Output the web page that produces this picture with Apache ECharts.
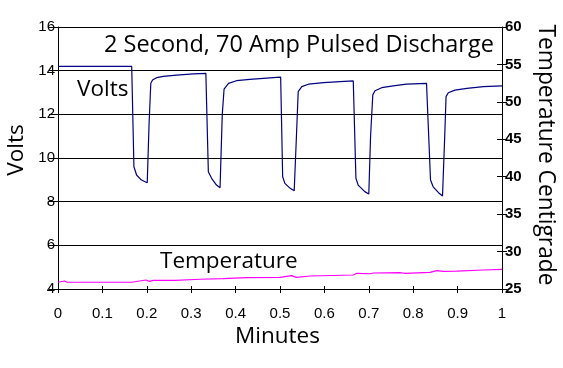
<!DOCTYPE html>
<html><head><meta charset="utf-8">
<script src="https://cdn.jsdelivr.net/npm/echarts@6/dist/echarts.min.js"></script>
<style>html,body{margin:0;padding:0;background:#fff}#c{width:563px;height:368px}</style>
</head><body><div id="c"></div>
<script>
// Time in minutes, volts
const voltsTime = [0,0.166,0.171,0.177,0.188,0.201,0.205,0.209,0.213,0.222,0.237,0.267,0.305,0.333,
  0.3386,0.346,0.357,0.365,0.370,0.374,0.384,0.402,0.432,0.485,0.5015,
  0.506,0.511,0.523,0.532,0.537,0.541,0.549,0.564,0.598,0.635,0.665,
  0.671,0.676,0.691,0.700,0.704,0.709,0.714,0.729,0.755,0.785,0.830,
  0.839,0.845,0.857,0.866,0.871,0.874,0.879,0.894,0.921,0.958,1.0];
const voltsValue = [14.2,14.2,9.6,9.22,8.99,8.87,11.5,13.42,13.57,13.68,13.74,13.80,13.85,13.88,
  9.37,9.07,8.76,8.64,12.0,13.15,13.42,13.54,13.60,13.68,13.70,
  9.14,8.84,8.61,8.50,11.0,13.04,13.27,13.38,13.45,13.50,13.53,
  9.07,8.76,8.46,8.35,11.0,12.89,13.08,13.22,13.30,13.38,13.42,
  8.99,8.68,8.41,8.26,11.0,12.81,12.99,13.11,13.19,13.27,13.30];
// Time in minutes, temperature in degrees C
const tempTime = [0,0.015,0.02,0.166,0.17,0.198,0.2,0.205,0.215,0.263,0.264,0.32,0.372,0.425,0.5,0.526,0.537,0.568,0.665,0.673,0.703,0.710,0.77,0.78,0.838,0.853,0.868,0.898,0.958,1.0];
const tempValue = [25.9,26.07,25.9,25.9,26.11,26.2,26.34,26.03,26.16,26.16,26.3,26.3,26.38,26.51,26.56,26.78,26.56,26.74,26.87,27.10,27.04,27.14,27.18,27.10,27.23,27.45,27.36,27.40,27.54,27.63];
const xTicks = {min:0, max:1, interval:0.1};
const voltTicks = {min:4, max:16, interval:2};
const tempTicks = {min:25, max:60, interval:5};

const chart = echarts.init(document.getElementById('c'), null, {renderer:'canvas'});
const tickFont = {color:'#000', fontFamily:'Liberation Sans, Arial', fontSize:15};
const pairs = (xs, ys) => xs.map((x,i)=>[x, ys[i]]);
const fmtX = v => String(Math.round(v*10)/10);
const G = {left:58, right:61, top:27, bottom:79, show:false};
const titleFont = '"Open Sans", sans-serif';
chart.setOption({
  animation:false,
  grid:[Object.assign({}, G), Object.assign({}, G)],
  xAxis:[
    {type:'value', gridIndex:0, min:xTicks.min, max:xTicks.max, interval:xTicks.interval,
     axisLine:{show:true, onZero:false, lineStyle:{color:'#000', width:1}},
     axisTick:{show:true, inside:false, length:4, lineStyle:{color:'#000'}},
     axisLabel:Object.assign({formatter:fmtX, margin:17}, tickFont),
     splitLine:{show:false}},
    {type:'value', gridIndex:1, position:'bottom', min:xTicks.min, max:xTicks.max, interval:xTicks.interval,
     axisLine:{show:false, onZero:false}, axisTick:{show:true, inside:true, length:3, lineStyle:{color:'#000'}},
     axisLabel:{show:false}, splitLine:{show:false}}
  ],
  yAxis:[
    {type:'value', gridIndex:0, min:voltTicks.min, max:voltTicks.max, interval:voltTicks.interval, position:'left',
     axisLine:{show:true, onZero:false, lineStyle:{color:'#000'}},
     axisTick:{show:true, inside:false, length:9, lineStyle:{color:'#000'}},
     axisLabel:Object.assign({margin:3}, tickFont),
     splitLine:{show:true, lineStyle:{color:'#000', width:1}}},
    {type:'value', gridIndex:0, min:tempTicks.min, max:tempTicks.max, interval:tempTicks.interval, position:'right',
     axisLine:{show:true, onZero:false, lineStyle:{color:'#000'}},
     axisTick:{show:true, inside:false, length:5, lineStyle:{color:'#000'}},
     axisLabel:{color:'#000', fontFamily:'Liberation Sans, Arial', fontSize:15, fontWeight:'bold', margin:3},
     splitLine:{show:false}},
    {type:'value', gridIndex:1, min:tempTicks.min, max:tempTicks.max, interval:tempTicks.interval, position:'right',
     axisLine:{show:false, onZero:false},
     axisTick:{show:true, inside:true, length:5, lineStyle:{color:'#000'}},
     axisLabel:{show:false}, splitLine:{show:false}}
  ],
  series:[
    {type:'line', name:'Volts', data:pairs(voltsTime, voltsValue), showSymbol:false, symbol:'none',
     lineStyle:{color:'#000080', width:1.2}, xAxisIndex:0, yAxisIndex:0, z:5},
    {type:'line', name:'Temperature', data:pairs(tempTime, tempValue), showSymbol:false, symbol:'none',
     lineStyle:{color:'#ff00ff', width:1.2}, xAxisIndex:0, yAxisIndex:1, z:5}
  ],
  graphic:[
    {type:'text', left:104, top:33, style:{text:'2 Second, 70 Amp Pulsed Discharge', font:'23.5px ' + titleFont, fill:'#000'}, z:10},
    {type:'text', left:77, top:78, style:{text:'Volts', font:'22.5px ' + titleFont, fill:'#000'}, z:10},
    {type:'text', left:160, top:250, style:{text:'Temperature', font:'22.5px ' + titleFont, fill:'#000'}, z:10},
    {type:'text', left:235, top:325, style:{text:'Minutes', font:'22.5px ' + titleFont, fill:'#000'}, z:10},
    {type:'text', x:17, y:150, rotation:Math.PI/2, style:{text:'Volts', font:'22.5px ' + titleFont, fill:'#000', align:'center', verticalAlign:'middle'}, z:10},
    {type:'text', x:545, y:155, rotation:-Math.PI/2, style:{text:'Temperature Centigrade', font:'22.75px ' + titleFont, fill:'#000', align:'center', verticalAlign:'middle'}, z:10}
  ]
});
</script></body></html>
